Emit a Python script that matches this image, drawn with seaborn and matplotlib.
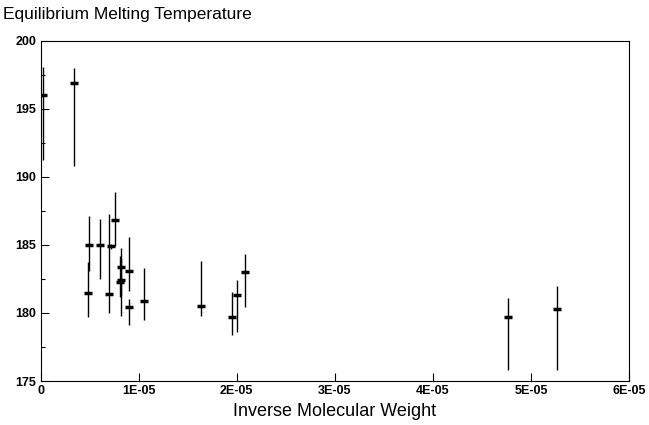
import matplotlib
matplotlib.use("Agg")
import matplotlib.pyplot as plt
import seaborn as sns
import numpy as np
import pandas as pd
from matplotlib.ticker import MultipleLocator, FixedLocator

inv_mw = [2.9e-7, 3.45e-6, 4.81e-6, 4.98e-6, 6.07e-6, 7.02e-6, 7.19e-6, 7.63e-6,
          8.18e-6, 8.10e-6, 8.25e-6, 9.0e-6, 9.0e-6, 1.059e-5, 1.634e-5,
          1.956e-5, 2.0e-5, 2.08e-5, 4.765e-5, 5.265e-5]
tm = [196.0, 196.9, 181.5, 185.0, 185.0, 181.4, 184.9, 186.8,
      183.4, 182.3, 182.4, 183.1, 180.4, 180.9, 180.5,
      179.7, 181.3, 183.0, 179.7, 180.3]
err_low = [191.2, 190.8, 179.7, 183.1, 182.5, 180.0, 184.7, 184.9,
           179.8, 181.2, 181.3, 181.6, 179.1, 179.5, 179.8,
           178.4, 178.6, 180.45, 175.8, 175.8]
err_high = [198.1, 198.0, 183.75, 187.1, 186.9, 187.3, 185.1, 188.9,
            184.75, 184.2, 184.0, 185.6, 181.0, 183.3, 183.8,
            181.55, 182.4, 184.3, 181.1, 182.0]

x_ticks = [0, 1e-5, 2e-5, 3e-5, 4e-5, 5e-5, 6e-5]
x_tick_labels = ["0", "1E-05", "2E-05", "3E-05", "4E-05", "5E-05", "6E-05"]
y_ticks = [175, 180, 185, 190, 195, 200]

df = pd.DataFrame({"x": inv_mw, "y": tm, "lo": err_low, "hi": err_high})

sns.set_style("ticks")
plt.rcParams["font.family"] = ["Liberation Sans", "DejaVu Sans"]
plt.rcParams["text.color"] = "black"
plt.rcParams["axes.labelcolor"] = "black"

fig = plt.figure(figsize=(6.49, 4.25), dpi=100)
ax = fig.add_axes([40.5 / 649, 1 - 381 / 425, (629 - 40.5) / 649, (381 - 40.7) / 425])

yerr = np.array([df["y"] - df["lo"], df["hi"] - df["y"]])
ax.errorbar(df["x"], df["y"], yerr=yerr, fmt="none", ecolor="black",
            elinewidth=1.0, capsize=0)
sns.scatterplot(data=df, x="x", y="y", ax=ax, marker="_", s=40,
                color="black", linewidth=2.5, legend=False)

ax.set_xlim(0, 6e-5)
ax.set_ylim(175, 200)
ax.xaxis.set_major_locator(FixedLocator(x_ticks))
ax.set_xticklabels(x_tick_labels)
ax.yaxis.set_major_locator(FixedLocator(y_ticks))
ax.yaxis.set_minor_locator(MultipleLocator(2.5))
ax.tick_params(axis="both", which="major", direction="in", length=6,
               width=0.8, labelsize=9, pad=3, colors="black")
ax.tick_params(axis="y", which="minor", direction="in", length=3, width=0.8,
               colors="black")
for lab in ax.get_xticklabels() + ax.get_yticklabels():
    lab.set_fontweight("bold")
for s in ax.spines.values():
    s.set_color("black")
    s.set_linewidth(0.8)

ax.set_xlabel("Inverse Molecular Weight", fontsize=13, labelpad=4, color="black")
ax.set_ylabel("")
fig.text(3 / 649, 1 - 19 / 425, "Equilibrium Melting Temperature",
         fontsize=12.5, ha="left", va="baseline", color="black")

fig.savefig("out.png", dpi=100)
